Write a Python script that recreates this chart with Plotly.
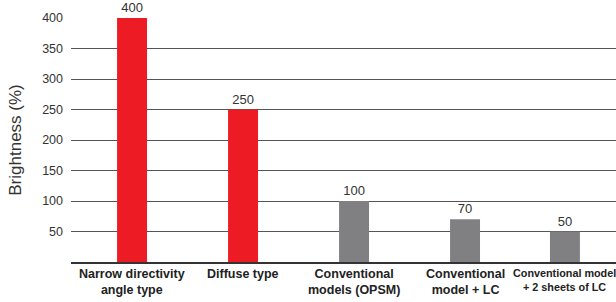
import plotly.graph_objects as go

categories = ["Narrow directivity<br>angle type", "Diffuse type", "Conventional<br>models (OPSM)",
              "Conventional<br>model + LC", "Conventional model<br>+ 2 sheets of LC"]
label_sizes = [12.5, 12.5, 12.5, 12.5, 10.8]
values = [400, 250, 100, 70, 50]
colors = ["#ED1C24", "#ED1C24", "#808083", "#808083", "#808083"]
y_ticks = [50, 100, 150, 200, 250, 300, 350, 400]

BAR_W = 0.27
# the last group sits slightly closer to its neighbour in the original
nudge = [0, 0, 0, 0, -0.1]

xs = list(range(len(categories)))

fig = go.Figure(go.Bar(
    x=xs, y=values, marker=dict(color=colors, line=dict(width=0)),
    width=BAR_W, offset=[-BAR_W / 2 + n for n in nudge],
    text=[str(v) for v in values], textposition="outside",
    textfont=dict(family="Arial, Liberation Sans", size=13, color="#333333"),
    cliponaxis=False,
))

for x, n, c, s in zip(xs, nudge, categories, label_sizes):
    fig.add_annotation(x=x + n, y=0, xref="x", yref="y", text=f"<b>{c}</b>", showarrow=False,
                       yanchor="top", yshift=-3, align="center",
                       font=dict(family="Arial, Liberation Sans", size=s, color="#222222"))

fig.update_layout(
    width=616, height=302,
    margin=dict(l=71, r=0, t=18, b=40),
    plot_bgcolor="white", paper_bgcolor="white",
    showlegend=False,
    font=dict(family="Arial, Liberation Sans", color="#333333"),
    xaxis=dict(tickmode="array", tickvals=xs, showticklabels=False,
               range=[-0.55, 4.36], showgrid=False, zeroline=False, automargin=False,
               showline=True, linecolor="#333333", linewidth=2, ticks=""),
    yaxis=dict(range=[0, 400], tickvals=y_ticks, showgrid=True, gridcolor="#555555",
               gridwidth=1, zeroline=False, showline=False, ticks="", automargin=False,
               tickfont=dict(size=12.5, color="#333333"), ticklabelstandoff=7,
               title=dict(text="Brightness (%)", font=dict(size=17, color="#333333"), standoff=16)),
)

fig.write_html("out.html", config={"displayModeBar": False},
               post_script="document.body.style.margin='0';document.body.style.overflow='hidden';")
